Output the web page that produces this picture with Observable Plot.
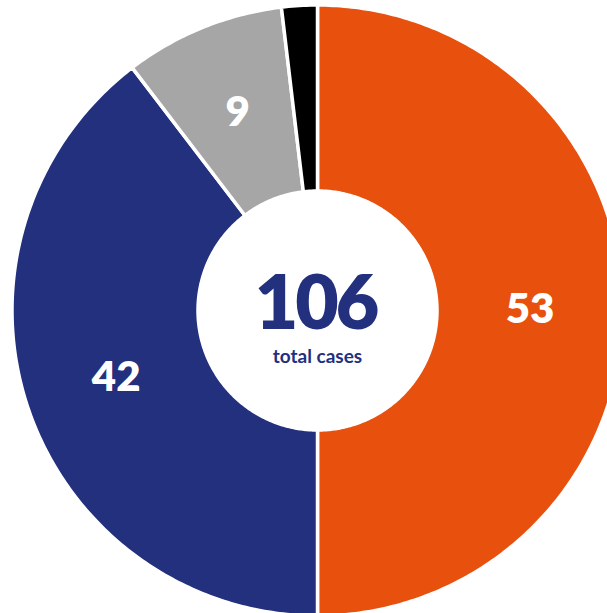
<!DOCTYPE html>
<html><head><meta charset="utf-8">
<script src="https://cdn.jsdelivr.net/npm/d3@7"></script>
<script src="https://cdn.jsdelivr.net/npm/@observablehq/plot@0.6"></script>
<style>html,body{margin:0;padding:0;background:#fff;overflow:hidden}
.total-label text{letter-spacing:-3px}</style>
</head><body><div id="chart"></div>
<script>
const categories = ["A", "B", "C", "D"];
const values = [53, 42, 9, 2];
const colors = ["#e8500e", "#22307e", "#a6a6a6", "#000000"];
const totalLabel = ["106"];
const subLabel = ["total cases"];

const R_OUT = 305.5, R_IN = 119.5;
const total = d3.sum(values);
let cum = 0;
const slices = categories.map((c, i) => {
  const a0 = cum / total * 2 * Math.PI;
  cum += values[i];
  const a1 = cum / total * 2 * Math.PI;
  return {cat: c, value: values[i], a0, a1};
});
const pts = [];
for (const s of slices) {
  const n = Math.max(8, Math.ceil((s.a1 - s.a0) * 80));
  for (let k = 0; k <= n; k++) {
    const a = s.a0 + (s.a1 - s.a0) * k / n;
    pts.push({cat: s.cat, x: R_OUT * Math.sin(a), y: R_OUT * Math.cos(a)});
  }
  for (let k = n; k >= 0; k--) {
    const a = s.a0 + (s.a1 - s.a0) * k / n;
    pts.push({cat: s.cat, x: R_IN * Math.sin(a), y: R_IN * Math.cos(a)});
  }
}
const labels = slices.filter(s => s.value >= 5).map(s => {
  const m = (s.a0 + s.a1) / 2, r = (R_OUT + R_IN) / 2;
  return {text: String(s.value), x: r * Math.sin(m), y: r * Math.cos(m)};
});

const chart = Plot.plot({
  width: 607, height: 613,
  margin: 0,
  x: {domain: [-317, 290], range: [0, 607], axis: null},
  y: {domain: [-303, 310], range: [613, 0], axis: null},
  color: {domain: categories, range: colors},
  style: {fontFamily: "Lato, sans-serif", background: "white"},
  marks: [
    Plot.line(pts, {x: "x", y: "y", z: "cat", fill: "cat", stroke: "white", strokeWidth: 3.5, curve: "linear-closed"}),
    Plot.text(labels, {x: "x", y: "y", text: "text", fill: "white", fontSize: 42, fontWeight: 800, dy: -1}),
    Plot.text(totalLabel, {x: () => 0, y: () => 10, text: d => d, fill: "#22307e", fontSize: 75, fontWeight: 800, dy: 4, dx: -2, className: "total-label"}),
    Plot.text(subLabel, {x: () => 0, y: () => -45, text: d => d, fill: "#22307e", fontSize: 19, fontWeight: 700, dy: 1})
  ]
});
document.getElementById("chart").appendChild(chart);
</script></body></html>
